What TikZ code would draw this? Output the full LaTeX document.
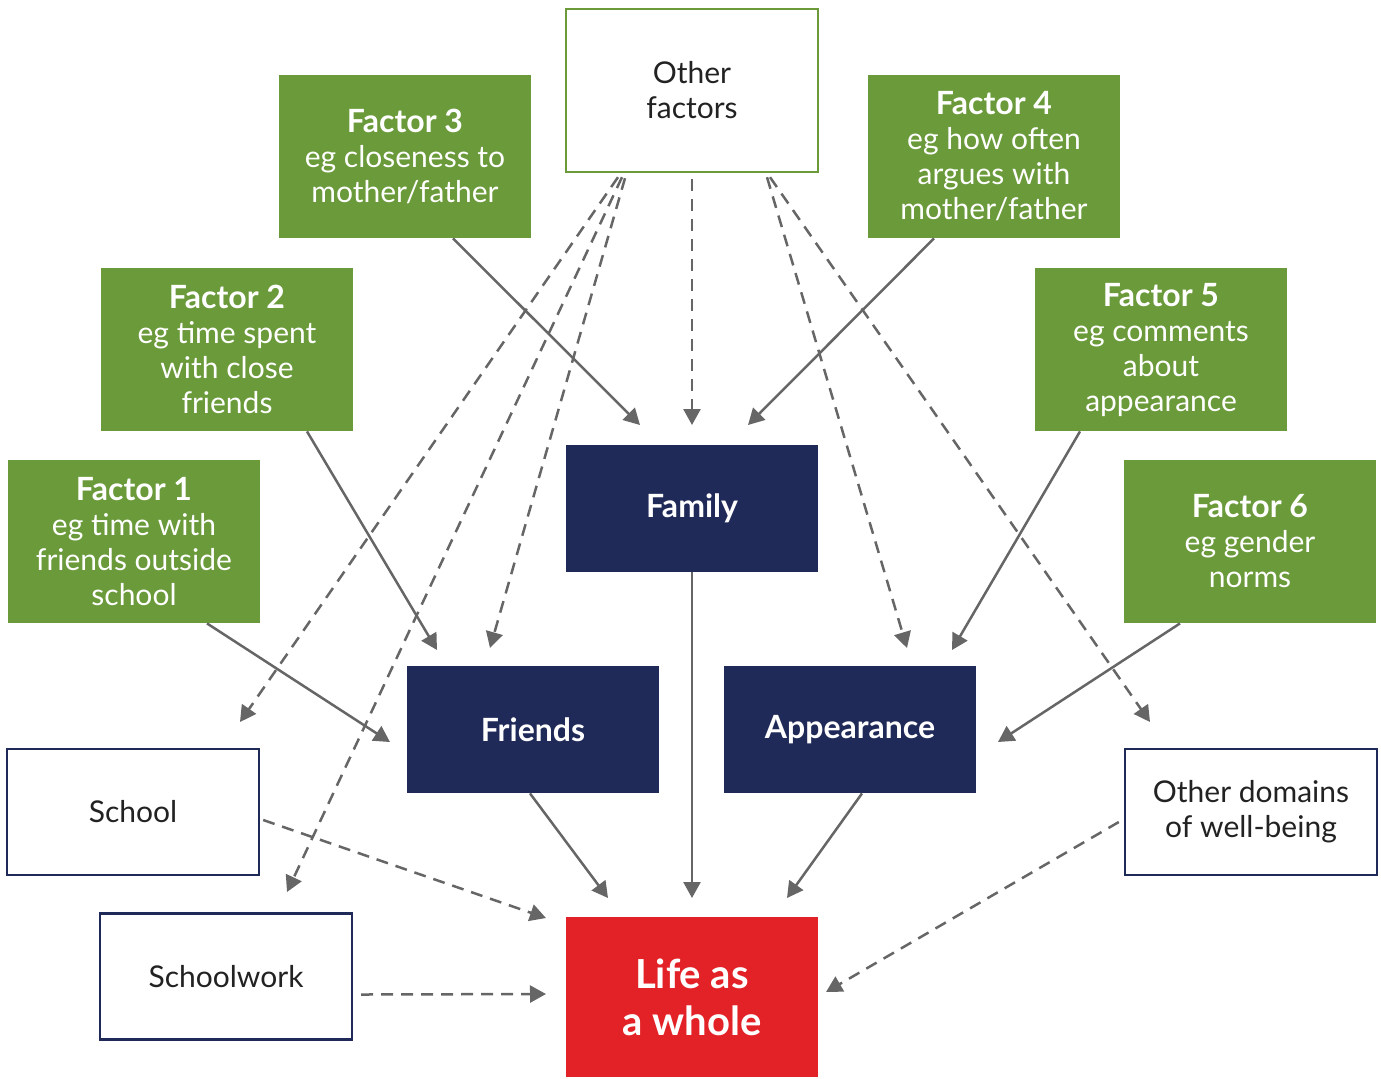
\documentclass[tikz,border=0pt]{standalone}
\usepackage{fontspec}
\setmainfont{Lato}
\usetikzlibrary{arrows.meta,calc}
\definecolor{fgreen}{HTML}{6A9A3A}
\definecolor{navy}{HTML}{202A58}
\definecolor{lred}{HTML}{E32228}
\definecolor{agray}{HTML}{666666}
\definecolor{tdark}{HTML}{222222}
\newcommand{\fhead}[1]{{\fontsize{16}{17.5}\selectfont\bfseries #1}}
\begin{document}
\begin{tikzpicture}[x=0.5pt,y=-0.5pt,
  box/.style={rectangle, minimum width=126pt, minimum height=81.5pt, inner sep=0pt, align=center, font=\fontsize{15}{17.5}\selectfont},
  factorbox/.style={box, fill=fgreen, text=white},
  navybox/.style={box, fill=navy, text=white, minimum height=63.5pt, font=\fontsize{16}{18}\selectfont\bfseries},
  whitebox/.style={box, draw=navy, line width=1.2pt, fill=white, text=tdark, minimum height=63pt},
  arr/.style={draw=agray, line width=1.25pt, -{Triangle[length=8pt,width=8.5pt]}},
  darr/.style={arr, dash pattern=on 6pt off 4pt},
]
\useasboundingbox (0,0) rectangle (1381,1078);
% nodes
\node[box, draw=fgreen, line width=1.2pt, fill=white, text=tdark] (oth) at (692,90.5) {Other\\factors};
\node[factorbox] (f3) at (405,156.5) {\fhead{Factor 3}\\eg closeness to\\mother/father};
\node[factorbox] (f4) at (994,156.5) {\fhead{Factor 4}\\eg how often\\argues with\\mother/father};
\node[factorbox] (f2) at (227,349.5) {\fhead{Factor 2}\\eg time spent\\with close\\friends};
\node[factorbox] (f5) at (1161,349.5) {\fhead{Factor 5}\\eg comments\\about\\appearance};
\node[factorbox] (f1) at (134,541.5) {\fhead{Factor 1}\\eg time with\\friends outside\\school};
\node[factorbox] (f6) at (1250,541.5) {\fhead{Factor 6}\\eg gender\\norms};
\node[navybox] (fam) at (692,508.5) {Family};
\node[navybox] (fri) at (533,729.5) {Friends};
\node[navybox] (app) at (850,729.5) {Appearance};
\node[whitebox] (sch) at (133,812) {School};
\node[whitebox] (od) at (1251,812) {Other domains\\of well-being};
\node[whitebox] (swk) at (226,976.5) {Schoolwork};
\node[box, fill=lred, text=white, minimum height=80pt, font=\fontsize{20}{23.5}\selectfont\bfseries] (life) at (692,997) {Life as\\a whole};
% arrow tips
\coordinate (t3) at (640,425);
\coordinate (tfo) at (692,425);
\coordinate (t4) at (748,425);
\coordinate (t2) at (437,650);
\coordinate (t1) at (390,742);
\coordinate (t5) at (952,650);
\coordinate (t6) at (998,742);
\coordinate (tsch) at (240,722);
\coordinate (tswk) at (287,892);
\coordinate (tfri) at (490,648);
\coordinate (tapp) at (907,648);
\coordinate (tod) at (1150,722);
\coordinate (lfam) at (692,898);
\coordinate (lfri) at (608,898);
\coordinate (lapp) at (787,898);
\coordinate (lsch) at (546,918);
\coordinate (lswk) at (546,994);
\coordinate (lod) at (826,992);
% connectors
\draw[arr] ($(f3.south)+(48,0)$) -- (t3);
\draw[darr] ($(oth.south)+(0,6)$) -- (tfo);
\draw[arr] ($(f4.south)+(-60,0)$) -- (t4);
\draw[arr] ($(f2.south)+(80,0)$) -- (t2);
\draw[arr] ($(f1.south)+(73,0)$) -- (t1);
\draw[arr] ($(f5.south)+(-81,0)$) -- (t5);
\draw[arr] ($(f6.south)+(-70,0)$) -- (t6);
\draw[darr] ($(oth.south)+(-74,4)$) -- (tsch);
\draw[darr] ($(oth.south)+(-70,4)$) -- (tswk);
\draw[darr] ($(oth.south)+(-67,5)$) -- (tfri);
\draw[darr] ($(oth.south)+(75,4)$) -- (tapp);
\draw[darr] ($(oth.south)+(78,4)$) -- (tod);
\draw[arr] (fam.south) -- (lfam);
\draw[arr] ($(fri.south)+(-3,0)$) -- (lfri);
\draw[arr] ($(app.south)+(12,0)$) -- (lapp);
\draw[darr] ($(sch.east)+(3,8)$) -- (lsch);
\draw[darr] ($(swk.east)+(8,18)$) -- (lswk);
\draw[darr] ($(od.west)+(-5,10)$) -- (lod);
\end{tikzpicture}
\end{document}
